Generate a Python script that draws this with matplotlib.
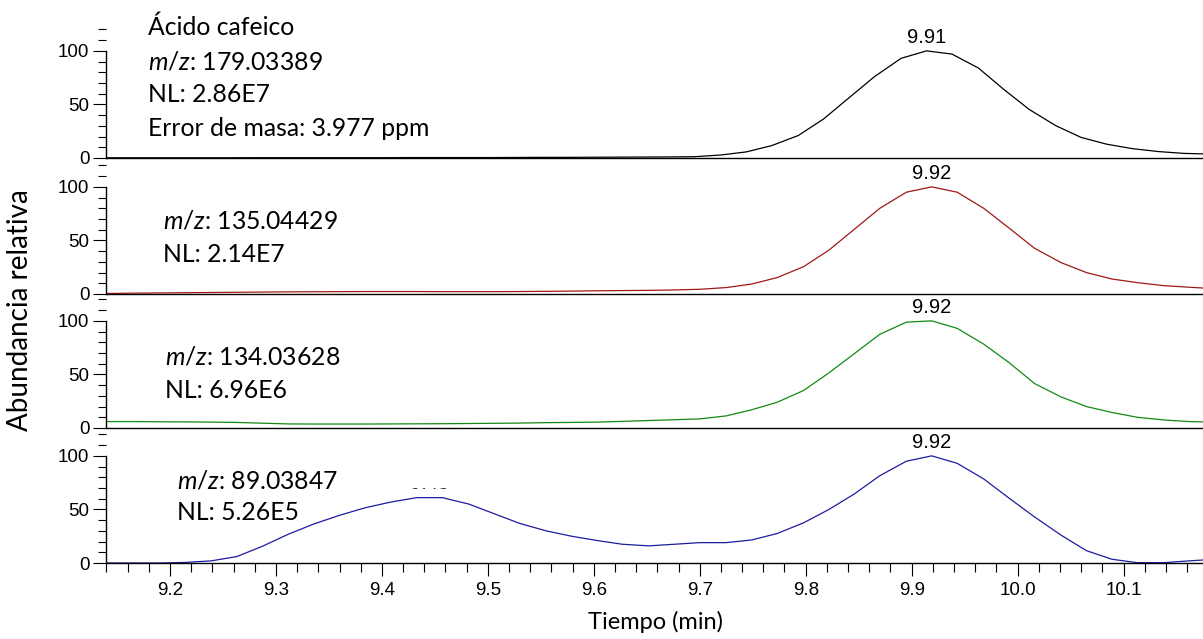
import matplotlib
matplotlib.use("Agg")
import matplotlib.pyplot as plt
from matplotlib.ticker import MultipleLocator, FormatStrFormatter
from matplotlib.patches import Rectangle

plt.rcParams['font.family'] = ['Liberation Sans', 'DejaVu Sans']
plt.rcParams['mathtext.fontset'] = 'custom'
plt.rcParams['mathtext.rm'] = 'Lato'
plt.rcParams['mathtext.it'] = 'Lato:italic'

# tiempos de barrido (min)
t_scan = [9.117, 9.141, 9.166, 9.190, 9.214, 9.239, 9.263, 9.287, 9.312, 9.336,
          9.360, 9.384, 9.409, 9.433, 9.457, 9.482, 9.506, 9.530, 9.555, 9.579,
          9.603, 9.627, 9.652, 9.676, 9.700, 9.725, 9.749, 9.773, 9.798, 9.822,
          9.846, 9.870, 9.895, 9.919, 9.943, 9.968, 9.992, 10.016, 10.041, 10.065,
          10.089, 10.113, 10.138, 10.162, 10.186]
t_black = [9.112, 9.136, 9.161, 9.185, 9.209, 9.234, 9.258, 9.282, 9.307, 9.331,
           9.355, 9.379, 9.404, 9.428, 9.452, 9.477, 9.501, 9.525, 9.550, 9.574,
           9.598, 9.622, 9.647, 9.671, 9.695, 9.720, 9.744, 9.768, 9.793, 9.817,
           9.841, 9.865, 9.890, 9.914, 9.938, 9.963, 9.987, 10.011, 10.036, 10.060,
           10.084, 10.108, 10.133, 10.157, 10.181]

# abundancia relativa (%)
i_179 = [0.2, 0.2, 0.2, 0.2, 0.2, 0.2, 0.2, 0.3, 0.3, 0.3,
         0.3, 0.3, 0.3, 0.4, 0.4, 0.4, 0.4, 0.5, 0.6, 0.6,
         0.7, 0.8, 0.9, 1.0, 1.2, 2.8, 5.7, 11.6, 21.0, 36.5,
         56.3, 76.0, 93.0, 100.0, 97.0, 84.0, 64.0, 45.3, 30.2, 19.2,
         12.9, 8.8, 6.0, 4.3, 3.7]
i_135 = [0.3, 0.5, 0.8, 1.0, 1.2, 1.4, 1.6, 1.8, 2.0, 2.1,
         2.2, 2.3, 2.3, 2.3, 2.2, 2.2, 2.2, 2.3, 2.5, 2.7,
         3.0, 3.2, 3.4, 3.8, 4.4, 6.0, 9.3, 15.3, 25.5, 41.0,
         60.5, 80.0, 95.0, 100.0, 95.0, 80.0, 61.5, 42.7, 29.3, 20.0,
         14.0, 10.6, 7.8, 6.3, 5.0]
i_134 = [6.0, 6.0, 6.0, 5.8, 5.7, 5.5, 5.2, 4.5, 3.8, 3.7,
         3.7, 3.7, 3.8, 3.9, 4.0, 4.2, 4.4, 4.6, 5.0, 5.2,
         5.5, 6.2, 7.0, 7.7, 8.5, 11.3, 17.0, 24.0, 35.0, 51.5,
         69.5, 87.5, 98.8, 100.0, 93.0, 78.3, 61.0, 41.5, 29.0, 20.0,
         14.5, 10.0, 7.5, 6.0, 5.5]
i_89 = [0.0, 0.0, 0.0, 0.0, 0.5, 2.0, 6.0, 15.5, 27.0, 36.5,
        44.5, 51.5, 57.0, 61.0, 61.0, 55.0, 46.0, 37.0, 30.0, 25.0,
        21.0, 17.5, 16.0, 17.5, 19.0, 19.0, 21.5, 27.5, 37.5, 50.0,
        64.5, 81.5, 95.0, 100.0, 93.0, 78.5, 60.5, 43.0, 26.0, 11.5,
        3.5, 0.3, 0.3, 2.0, 3.5]

colores = ['#000000', '#a01818', '#138a13', '#1c1ca0']
series = [(t_black, i_179), (t_scan, i_135), (t_scan, i_134), (t_scan, i_89)]
picos = [(9.914, 100, '9.91'), (9.919, 100, '9.92'), (9.919, 100, '9.92'), (9.919, 100, '9.92')]

# textos de cada panel: (x px, y px, texto)
textos = [
    [(148, 27, 'Ácido cafeico'), (148, 62, r'$m/z$: 179.03389'),
     (148, 95, 'NL: 2.86E7'), (148, 128, 'Error de masa: 3.977 ppm')],
    [(163, 221, r'$m/z$: 135.04429'), (163, 255, 'NL: 2.14E7')],
    [(165, 357, r'$m/z$: 134.03628'), (165, 390, 'NL: 6.96E6')],
    [(177, 481, r'$m/z$: 89.03847'), (177, 513, 'NL: 5.26E5')],
]

W, H = 1203, 639
fig = plt.figure(figsize=(W / 100, H / 100), dpi=100)

bases = [158, 294, 428, 563]
alto = 135
izq = 106

for k, (t, v) in enumerate(series):
    ax = fig.add_axes([izq / W, 1 - bases[k] / H, 1 - izq / W, alto / H])
    ax.plot(t, v, color=colores[k], lw=0.9)
    ax.set_xlim(9.1396, 10.175)
    ax.set_ylim(0, 126)
    ax.spines['top'].set_visible(False)
    ax.spines['right'].set_visible(False)
    ax.spines['left'].set_bounds(0, 100)
    ax.spines['left'].set_linewidth(1.0)
    ax.spines['bottom'].set_linewidth(1.0)
    ax.set_yticks([0, 50, 100])
    ax.yaxis.set_minor_locator(MultipleLocator(10))
    ax.tick_params(axis='y', which='major', direction='out', length=9.5, width=0.8,
                   labelsize=13.5, pad=2.5)
    ax.tick_params(axis='y', which='minor', direction='out', length=6, width=0.8)
    ax.patch.set_alpha(0)

    tp, vp, lab = picos[k]
    ax.annotate(lab, (tp, vp), xytext=(0, 3), textcoords='offset points',
                ha='center', va='bottom', fontsize=14.5)

    if k < 3:
        ax.tick_params(axis='x', which='both', bottom=False, labelbottom=False)
    else:
        ax.xaxis.set_major_locator(MultipleLocator(0.1))
        ax.xaxis.set_minor_locator(MultipleLocator(0.02))
        ax.xaxis.set_major_formatter(FormatStrFormatter('%.1f'))
        ax.tick_params(axis='x', which='major', direction='out', length=9.5, width=0.8,
                       labelsize=13.5, pad=4)
        ax.tick_params(axis='x', which='minor', direction='out', length=6.5, width=0.8)
        # etiqueta del primer pico, tapada casi por completo
        ax.annotate('9.45', (9.445, 61), xytext=(0, 3), textcoords='offset points',
                    ha='center', va='bottom', fontsize=14.5, zorder=3)
        ax.add_patch(Rectangle((9.39, 70.5), 0.12, 50, color='white', zorder=4))

    for x, y, s in textos[k]:
        fig.text(x / W, 1 - y / H, s, ha='left', va='center', fontsize=17.8,
                 family='Lato')

fig.text(20 / W, 1 - 310 / H, 'Abundancia relativa', rotation=90, ha='center',
         va='center', fontsize=20, family='Lato')
fig.text(655 / W, 1 - 622 / H, 'Tiempo (min)', ha='center', va='center',
         fontsize=17, family='Lato')

fig.savefig('out.png', dpi=100)
